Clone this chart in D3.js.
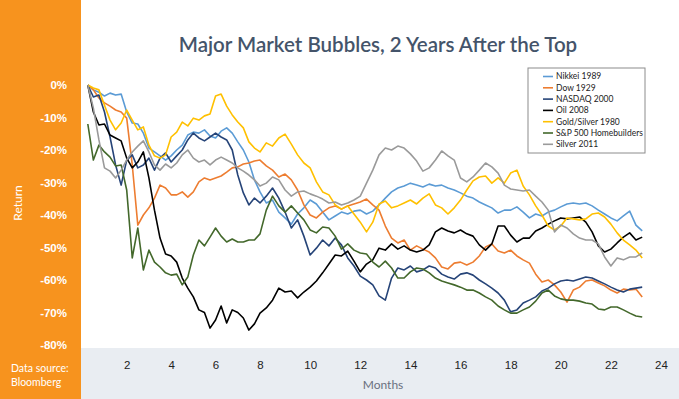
<!DOCTYPE html>
<html>
<head>
<meta charset="utf-8">
<script src="https://cdn.jsdelivr.net/npm/d3@7"></script>
<style>
    body { margin: 0; background: #fff; }
    svg { display: block; font-family: Lato, 'Open Sans', sans-serif; }
</style>
</head>
<body>
<div id="chart"></div>
<script>
'use strict';

// sample dates, every quarter month from the top
const months = d3.range(0.25, 23.26, 0.25);

const xticks = [2, 4, 6, 8, 10, 12, 14, 16, 18, 20, 22, 24];
const yticks = [0, -10, -20, -30, -40, -50, -60, -70, -80];

const series_names = ['Nikkei 1989', 'Dow 1929', 'NASDAQ 2000', 'Oil 2008', 'Gold/Silver 1980', 'S&P 500 Homebuilders', 'Silver 2011'];

// returns in %, one value per entry of months
const nikkei = [0, -1.5, -2.2, -3.4, -2.5, -3.1, -2.8, -8.3, -11.7, -12, -14.8, -19.4, -20.6, -21.8, -23.1, -21.8,
    -20, -18.5, -15.4, -14.5, -14.8, -13.8, -15.7, -16.3, -14.2, -13.2, -14.8, -17.5, -20, -23.7, -29.2, -32.9,
    -36.3, -35.4, -39.1, -40.9, -42.8, -39.7, -37.8, -35.4, -36.6, -39.1, -41.5, -40.3, -39.1, -39.7, -38.8, -38.5,
    -39.7, -38.8, -36.9, -34.8, -32.9, -31.7, -31.1, -30.2, -30.8, -31.4, -30.5, -31.1, -30.8, -31.7, -32.3, -33.2,
    -34.2, -34.8, -36, -36.9, -37.8, -39.4, -38.5, -38.5, -37.5, -39.1, -40.9, -39.7, -40.3, -39.1, -38.5, -37.5,
    -36.6, -36.3, -36.6, -36.3, -37.2, -38.5, -39.7, -40.9, -41.8, -40.3, -38.8, -43.1, -44.9];

const dow = [0, -1.5, -4, -5.5, -6.5, -7.7, -8.3, -10.2, -24.6, -43.1, -40, -37.8, -34.8, -30.8, -31.7, -33.8,
    -33.8, -32.9, -34.5, -32.9, -29.8, -28.6, -29.2, -28.6, -28, -26.8, -25.5, -25.2, -24.3, -24, -23.4, -23.1,
    -24.9, -26.2, -28.3, -27.4, -29.2, -32.3, -36.9, -40, -40.9, -39.1, -37.8, -37.2, -38.2, -37.2, -36.6, -36,
    -35.1, -36.9, -38.5, -43.4, -47.1, -48.6, -47.7, -50.8, -49.5, -50.5, -51.4, -53.2, -56, -56.6, -54.8, -54.5,
    -55.4, -54.5, -52.6, -49.8, -48.9, -51.1, -51.7, -50.8, -52.6, -53.8, -54.8, -58.2, -60.6, -60, -61.5, -63.7,
    -66.8, -63.1, -62.2, -60.3, -60, -60.9, -61.8, -63.1, -64, -62.8, -63.1, -62.8, -65.2];

const nasdaq = [0, -3.7, -3.1, -8.3, -16, -24.6, -30.8, -23.1, -21.5, -25.5, -24.6, -22.5, -26.2, -22.5, -20.9, -23.7,
    -21.8, -20, -16.9, -14.8, -16.3, -17.2, -16, -14.8, -16, -16.9, -20, -27.7, -33.2, -36.9, -34.8, -36.3,
    -34.2, -31.7, -34.8, -39.1, -44, -41.5, -46.5, -52.3, -50.2, -47.7, -49.5, -47.1, -49.2, -53.2, -55.7, -58.8,
    -60, -61.5, -64.9, -66.2, -59.4, -56.3, -56.9, -55.7, -57.5, -56.9, -55.7, -56.3, -58.2, -59.1, -59.7, -58.2,
    -57.8, -58.5, -60, -61.2, -62.5, -64, -66.2, -69.8, -69.2, -67.1, -66.2, -65.2, -63.4, -62.5, -61.2, -60.3,
    -60, -60.3, -59.7, -59.1, -59.4, -60.3, -61.2, -62.2, -63.1, -63.7, -62.8, -62.5, -62.2];

const oil = [0, -8.3, -12.3, -12, -15.4, -16.3, -17.2, -22.5, -25.5, -23.7, -20.6, -28.6, -38.5, -47.1, -52, -52.6,
    -54.5, -59.4, -62.5, -65.2, -69.2, -70, -74.8, -72.3, -68, -73.2, -69.2, -70, -71.7, -75.4, -73.5, -70.2,
    -68.6, -66.2, -62.5, -63.7, -63.4, -65.5, -63.7, -62.2, -60.3, -57.8, -55.1, -52.3, -52.6, -51.1, -54.2, -57.5,
    -55.1, -53.8, -50.2, -50.8, -48.9, -50.5, -49.5, -50.8, -51.4, -50.8, -49.2, -45.2, -44, -44.9, -45.5, -44.6,
    -45.8, -46.5, -49.2, -50.8, -48.9, -43.4, -43.4, -46.2, -48.3, -47.1, -47.1, -44.9, -44, -42.8, -41.8, -40.9,
    -41.2, -40.9, -40.6, -42.2, -45.2, -49.5, -51.4, -50.5, -48.6, -46.8, -45.5, -47.7, -46.8];

const gold = [0, -0.9, -1.5, -6.2, -10.8, -13.8, -11.7, -7.7, -10.8, -13.8, -12.9, -18.5, -21.8, -22.5, -21.5, -16,
    -14.5, -11.4, -12.6, -10.2, -10.8, -9.5, -8.9, -3.4, -2.8, -6.5, -9.2, -11.4, -13.2, -17.5, -19.4, -20.6,
    -17.8, -18.8, -16.3, -15.1, -18.2, -21.5, -24, -25.5, -29.8, -32.9, -33.8, -36.9, -38.2, -37.2, -39.7, -42.2,
    -45.2, -42.2, -36.6, -35.7, -37.8, -37.2, -36.3, -35.4, -36.6, -34.8, -33.5, -36.9, -37.8, -39.7, -37.8, -35.4,
    -32.3, -29.5, -28.3, -28, -30.2, -28.6, -30.2, -27.1, -26.2, -31.1, -33.8, -37.2, -40, -43.4, -44.6, -43.4,
    -40.9, -41.2, -41.5, -41.2, -39.7, -39.4, -40.6, -42.8, -45.5, -47.7, -49.2, -50.8, -53.2];

const homebuilders = [-12, -23.1, -18.5, -20.6, -22.2, -24.9, -24.6, -32.3, -53.2, -44, -56.9, -50.8, -54.5, -56, -57.8, -58.5,
    -58.2, -61.5, -59.1, -52.3, -47.7, -49.5, -46.8, -44, -46.5, -48.3, -47.4, -48.3, -48.3, -47.7, -47.7, -45.8,
    -38.5, -34.2, -37.2, -39.1, -37.2, -39.4, -41.5, -44.6, -45.5, -43.7, -44, -46.5, -50.5, -48.9, -50.8, -51.7,
    -52, -54.5, -56, -54.2, -56.3, -59.4, -59.4, -57.5, -56.3, -56.6, -57.8, -59.4, -60.3, -60.9, -61.5, -62.2,
    -63.1, -63.1, -64, -65.2, -66.2, -68, -69.2, -70.2, -70.2, -69.2, -68.3, -66.5, -64, -63.1, -64.9, -65.8,
    -66.2, -66.2, -66.5, -67.1, -67.4, -68.9, -69.2, -68.3, -68.3, -69.2, -70.2, -71.1, -71.4];

const silver = [0, -7.1, -16.9, -25.5, -26.5, -28.6, -26.2, -23.1, -20.6, -18.8, -17.2, -20.6, -24.6, -26.2, -24.3, -25.5,
    -24, -21.5, -20, -22.5, -23.7, -23.1, -24.6, -23.1, -22.2, -23.1, -24, -25.5, -26.5, -27.7, -29.2, -31.1,
    -30.2, -28.3, -29.2, -32.3, -34.2, -32.9, -32.6, -33.5, -34.2, -35.1, -36.3, -36, -36.9, -36.3, -35.4, -34.2,
    -30.2, -26.2, -21.5, -19.4, -20, -18.8, -19.4, -21.2, -23.4, -26.5, -25.5, -23.1, -20.3, -21.8, -23.1, -28.6,
    -29.8, -28.3, -26.2, -24, -25.2, -27.1, -30.8, -32, -32.3, -32.6, -32.3, -34.2, -36, -38.5, -45.2, -43.1,
    -44, -45.8, -47.1, -47.7, -47.7, -48.9, -52.9, -55.7, -53.2, -53.8, -52.9, -52.9, -51.7];

const series_values = [nikkei, dow, nasdaq, oil, gold, homebuilders, silver];

function color(i) {
    let colors = ['#5b9bd5', '#ed7d31', '#264478', '#000000', '#ffc000', '#43682b', '#9a9a9a'];
    return colors[i % colors.length];
}

let dim = {
    width: 679,
    height: 399,
    sidebar: 81,
    band: 348
};

let svg = d3.select('#chart')
    .append('svg')
    .attr('width', dim.width)
    .attr('height', dim.height);

// orange side bar and grey bottom band
svg.append('rect')
    .attr('x', 0).attr('y', 0)
    .attr('width', dim.sidebar).attr('height', dim.height)
    .attr('fill', '#f7931e');

svg.append('rect')
    .attr('x', dim.sidebar).attr('y', dim.band)
    .attr('width', dim.width - dim.sidebar).attr('height', dim.height - dim.band)
    .attr('fill', '#e9edf2');

// month axis is not even: the first labels sit closer together
const xScale = d3.scaleLinear()
    .domain([2, 8, 24])
    .range([126.7, 260, 661]);

const yScale = d3.scaleLinear()
    .domain([-80, 0])
    .range([345, 85]);

svg.append('text')
    .attr('x', 378)
    .attr('y', 52)
    .attr('text-anchor', 'middle')
    .attr('fill', '#44546a')
    .style('font-size', '20.5px')
    .style('font-weight', '600')
    .text('Major Market Bubbles, 2 Years After the Top');

let yAxis = svg.append('g')
    .attr('transform', 'translate(70,0)')
    .call(d3.axisLeft(yScale).tickValues(yticks).tickSize(0).tickPadding(3).tickFormat(d => d + '%'));
yAxis.select('.domain').remove();
yAxis.selectAll('text')
    .attr('fill', '#fff')
    .style('font-size', '11.5px')
    .style('font-weight', '600');

let xAxis = svg.append('g')
    .attr('transform', 'translate(0,355)')
    .call(d3.axisBottom(xScale).tickValues(xticks).tickSize(0).tickPadding(6));
xAxis.select('.domain').remove();
xAxis.selectAll('text')
    .attr('fill', '#222')
    .style('font-size', '11.5px');

svg.append('text')
    .attr('transform', 'translate(22,203) rotate(-90)')
    .attr('text-anchor', 'middle')
    .attr('fill', '#fff')
    .style('font-size', '12px')
    .text('Return');

svg.append('text')
    .attr('x', 383)
    .attr('y', 389)
    .attr('text-anchor', 'middle')
    .attr('fill', '#6a7080')
    .style('font-size', '12px')
    .text('Months');

svg.append('text')
    .attr('x', 11)
    .attr('y', 372)
    .attr('fill', '#fff')
    .style('font-size', '10.5px')
    .text('Data source:');

svg.append('text')
    .attr('x', 11)
    .attr('y', 386)
    .attr('fill', '#fff')
    .style('font-size', '10.5px')
    .text('Bloomberg');

const line = d3.line()
    .x((d, i) => xScale(months[i]))
    .y(d => yScale(d));

svg.append('g')
    .selectAll('path')
    .data(series_values)
    .enter()
    .append('path')
    .attr('d', line)
    .attr('fill', 'none')
    .attr('stroke', (d, i) => color(i))
    .attr('stroke-width', 1.6)
    .attr('stroke-linejoin', 'round');

// legend
let legend = svg.append('g')
    .attr('transform', 'translate(528,68)');

legend.append('rect')
    .attr('width', 117)
    .attr('height', 85)
    .attr('fill', '#fff')
    .attr('stroke', '#8c8c8c')
    .attr('stroke-width', 1);

let rows = legend.selectAll('.row')
    .data(series_names)
    .enter()
    .append('g')
    .attr('class', 'row')
    .attr('transform', (d, i) => 'translate(0,' + (8.5 + i * 11.3) + ')');

rows.append('line')
    .attr('x1', 15).attr('x2', 25)
    .attr('stroke', (d, i) => color(i))
    .attr('stroke-width', 1.6);

rows.append('text')
    .attr('x', 28)
    .attr('dy', '0.35em')
    .attr('fill', '#222')
    .style('font-size', '8.5px')
    .text(d => d);
</script>
</body>
</html>
